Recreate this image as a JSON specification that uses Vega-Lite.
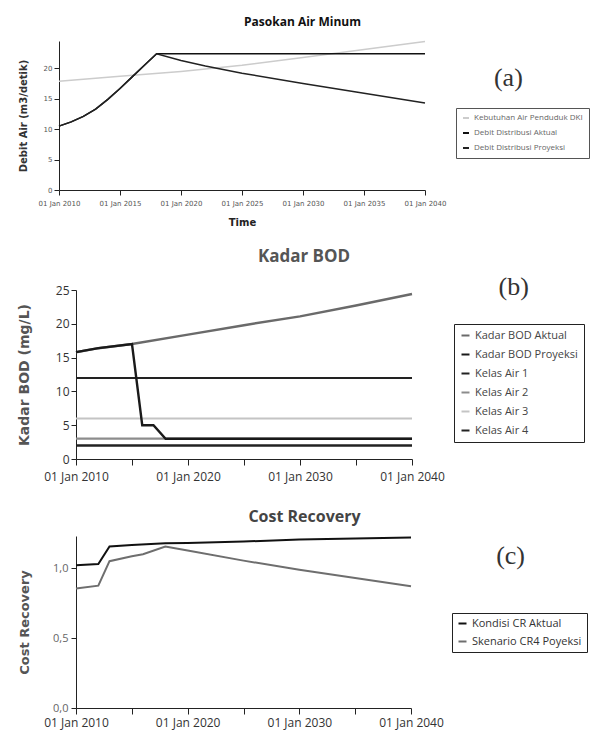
{
  "$schema": "https://vega.github.io/schema/vega-lite/v6.json",
  "padding": {"left": 17, "top": 15, "right": 0, "bottom": 4},
  "background": "white",
  "spacing": 21,
  "config": {
    "view": {"stroke": null},
    "axis": {"grid": false, "domainColor": "#222", "tickColor": "#222", "labelColor": "#444", "labelOverlap": false},
    "legend": {"symbolType": "stroke", "strokeColor": "#222", "labelColor": "#333", "title": null, "orient": "none"}
  },
  "datasets": {
    "pasokan": [
      {"date": "2010-01-01", "value": 17.9, "series": "Kebutuhan Air Penduduk DKI"},
      {"date": "2015-01-01", "value": 18.7, "series": "Kebutuhan Air Penduduk DKI"},
      {"date": "2020-01-01", "value": 19.5, "series": "Kebutuhan Air Penduduk DKI"},
      {"date": "2025-01-01", "value": 20.5, "series": "Kebutuhan Air Penduduk DKI"},
      {"date": "2030-01-01", "value": 21.8, "series": "Kebutuhan Air Penduduk DKI"},
      {"date": "2035-01-01", "value": 23.1, "series": "Kebutuhan Air Penduduk DKI"},
      {"date": "2040-01-01", "value": 24.4, "series": "Kebutuhan Air Penduduk DKI"},
      {"date": "2010-01-01", "value": 10.5, "series": "Debit Distribusi Aktual"},
      {"date": "2011-01-01", "value": 11.2, "series": "Debit Distribusi Aktual"},
      {"date": "2012-01-01", "value": 12.1, "series": "Debit Distribusi Aktual"},
      {"date": "2013-01-01", "value": 13.3, "series": "Debit Distribusi Aktual"},
      {"date": "2014-01-01", "value": 14.9, "series": "Debit Distribusi Aktual"},
      {"date": "2015-01-01", "value": 16.7, "series": "Debit Distribusi Aktual"},
      {"date": "2016-01-01", "value": 18.6, "series": "Debit Distribusi Aktual"},
      {"date": "2017-01-01", "value": 20.5, "series": "Debit Distribusi Aktual"},
      {"date": "2018-01-01", "value": 22.4, "series": "Debit Distribusi Aktual"},
      {"date": "2030-01-01", "value": 22.4, "series": "Debit Distribusi Aktual"},
      {"date": "2040-01-01", "value": 22.4, "series": "Debit Distribusi Aktual"},
      {"date": "2010-01-01", "value": 10.5, "series": "Debit Distribusi Proyeksi"},
      {"date": "2011-01-01", "value": 11.2, "series": "Debit Distribusi Proyeksi"},
      {"date": "2012-01-01", "value": 12.1, "series": "Debit Distribusi Proyeksi"},
      {"date": "2013-01-01", "value": 13.3, "series": "Debit Distribusi Proyeksi"},
      {"date": "2014-01-01", "value": 14.9, "series": "Debit Distribusi Proyeksi"},
      {"date": "2015-01-01", "value": 16.7, "series": "Debit Distribusi Proyeksi"},
      {"date": "2016-01-01", "value": 18.6, "series": "Debit Distribusi Proyeksi"},
      {"date": "2017-01-01", "value": 20.5, "series": "Debit Distribusi Proyeksi"},
      {"date": "2018-01-01", "value": 22.4, "series": "Debit Distribusi Proyeksi"},
      {"date": "2020-01-01", "value": 21.3, "series": "Debit Distribusi Proyeksi"},
      {"date": "2022-01-01", "value": 20.4, "series": "Debit Distribusi Proyeksi"},
      {"date": "2025-01-01", "value": 19.2, "series": "Debit Distribusi Proyeksi"},
      {"date": "2030-01-01", "value": 17.5, "series": "Debit Distribusi Proyeksi"},
      {"date": "2035-01-01", "value": 15.9, "series": "Debit Distribusi Proyeksi"},
      {"date": "2040-01-01", "value": 14.3, "series": "Debit Distribusi Proyeksi"}
    ],
    "bod": [
      {"date": "2010-01-01", "value": 2, "series": "Kelas Air 1"},
      {"date": "2040-01-01", "value": 2, "series": "Kelas Air 1"},
      {"date": "2010-01-01", "value": 3, "series": "Kelas Air 2"},
      {"date": "2040-01-01", "value": 3, "series": "Kelas Air 2"},
      {"date": "2010-01-01", "value": 6, "series": "Kelas Air 3"},
      {"date": "2040-01-01", "value": 6, "series": "Kelas Air 3"},
      {"date": "2010-01-01", "value": 12, "series": "Kelas Air 4"},
      {"date": "2040-01-01", "value": 12, "series": "Kelas Air 4"},
      {"date": "2010-01-01", "value": 15.8, "series": "Kadar BOD Aktual"},
      {"date": "2012-01-01", "value": 16.4, "series": "Kadar BOD Aktual"},
      {"date": "2015-01-01", "value": 17.0, "series": "Kadar BOD Aktual"},
      {"date": "2020-01-01", "value": 18.4, "series": "Kadar BOD Aktual"},
      {"date": "2025-01-01", "value": 19.8, "series": "Kadar BOD Aktual"},
      {"date": "2030-01-01", "value": 21.1, "series": "Kadar BOD Aktual"},
      {"date": "2035-01-01", "value": 22.7, "series": "Kadar BOD Aktual"},
      {"date": "2040-01-01", "value": 24.4, "series": "Kadar BOD Aktual"},
      {"date": "2010-01-01", "value": 15.8, "series": "Kadar BOD Proyeksi"},
      {"date": "2012-01-01", "value": 16.4, "series": "Kadar BOD Proyeksi"},
      {"date": "2015-01-01", "value": 17.0, "series": "Kadar BOD Proyeksi"},
      {"date": "2015-12-01", "value": 5.0, "series": "Kadar BOD Proyeksi"},
      {"date": "2016-12-01", "value": 5.0, "series": "Kadar BOD Proyeksi"},
      {"date": "2018-01-01", "value": 3.0, "series": "Kadar BOD Proyeksi"},
      {"date": "2040-01-01", "value": 3.0, "series": "Kadar BOD Proyeksi"}
    ],
    "cr": [
      {"date": "2010-01-01", "value": 1.02, "series": "Kondisi CR Aktual"},
      {"date": "2012-01-01", "value": 1.03, "series": "Kondisi CR Aktual"},
      {"date": "2013-01-01", "value": 1.155, "series": "Kondisi CR Aktual"},
      {"date": "2015-01-01", "value": 1.165, "series": "Kondisi CR Aktual"},
      {"date": "2018-01-01", "value": 1.178, "series": "Kondisi CR Aktual"},
      {"date": "2020-01-01", "value": 1.18, "series": "Kondisi CR Aktual"},
      {"date": "2025-01-01", "value": 1.19, "series": "Kondisi CR Aktual"},
      {"date": "2030-01-01", "value": 1.205, "series": "Kondisi CR Aktual"},
      {"date": "2035-01-01", "value": 1.213, "series": "Kondisi CR Aktual"},
      {"date": "2040-01-01", "value": 1.22, "series": "Kondisi CR Aktual"},
      {"date": "2010-01-01", "value": 0.855, "series": "Skenario CR4 Poyeksi"},
      {"date": "2012-01-01", "value": 0.875, "series": "Skenario CR4 Poyeksi"},
      {"date": "2013-01-01", "value": 1.05, "series": "Skenario CR4 Poyeksi"},
      {"date": "2015-01-01", "value": 1.085, "series": "Skenario CR4 Poyeksi"},
      {"date": "2016-01-01", "value": 1.10, "series": "Skenario CR4 Poyeksi"},
      {"date": "2018-01-01", "value": 1.154, "series": "Skenario CR4 Poyeksi"},
      {"date": "2020-01-01", "value": 1.126, "series": "Skenario CR4 Poyeksi"},
      {"date": "2025-01-01", "value": 1.054, "series": "Skenario CR4 Poyeksi"},
      {"date": "2030-01-01", "value": 0.988, "series": "Skenario CR4 Poyeksi"},
      {"date": "2035-01-01", "value": 0.929, "series": "Skenario CR4 Poyeksi"},
      {"date": "2040-01-01", "value": 0.871, "series": "Skenario CR4 Poyeksi"}
    ]
  },
  "vconcat": [
    {
      "width": 349,
      "height": 149,
      "title": {"text": "Pasokan Air Minum", "font": "Open Sans", "fontSize": 12, "fontWeight": "bold", "color": "#111", "anchor": "middle", "dx": 52, "offset": 10},
      "layer": [
        {
          "data": {"name": "pasokan"},
          "mark": {"type": "line", "strokeWidth": 1.5, "clip": false},
          "encoding": {
            "x": {"field": "date", "type": "temporal",
              "scale": {"type": "utc", "range": [-17, 349], "domain": [{"year": 2010, "month": "jan", "date": 1, "utc": true}, {"year": 2040, "month": "jan", "date": 1, "utc": true}]},
              "axis": {"values": [{"year": 2010, "utc": true}, {"year": 2015, "utc": true}, {"year": 2020, "utc": true}, {"year": 2025, "utc": true}, {"year": 2030, "utc": true}, {"year": 2035, "utc": true}, {"year": 2040, "utc": true}],
                "labelExpr": "utcFormat(datum.value, '%d %b %Y')", "labelFont": "DejaVu Sans", "labelFontSize": 7, "labelColor": "#555", "tickSize": 5, "labelPadding": 4, "labelFlush": false, "labelOverlap": false,
                "title": "Time", "titleFont": "DejaVu Sans", "titleFontSize": 10, "titleFontWeight": "bold", "titleColor": "#222", "titlePadding": 11}},
            "y": {"field": "value", "type": "quantitative",
              "scale": {"domain": [0, 24.5], "nice": false, "zero": true},
              "axis": {"offset": 17, "values": [0, 5, 10, 15, 20], "labelOverlap": false, "labelFont": "DejaVu Sans", "labelFontSize": 7, "labelColor": "#555", "tickSize": 5, "labelPadding": 2,
                "title": "Debit Air (m3/detik)", "titleFont": "DejaVu Sans", "titleFontSize": 10, "titleFontWeight": "bold", "titleColor": "#333", "titlePadding": 15}},
            "color": {"field": "series", "type": "nominal",
              "scale": {"domain": ["Kebutuhan Air Penduduk DKI", "Debit Distribusi Aktual", "Debit Distribusi Proyeksi"], "range": ["#cccccc", "#111111", "#222222"]},
              "legend": {"legendX": 380, "legendY": 67, "labelFont": "Open Sans", "labelFontSize": 8, "labelColor": "#666", "symbolSize": 36, "symbolStrokeWidth": 2, "rowPadding": 7, "padding": 6, "strokeColor": "#555"}}
          }
        },
        {
          "data": {"values": [{}]},
          "mark": {"type": "text", "font": "Liberation Serif", "fontSize": 26, "color": "#333", "clip": false},
          "encoding": {
            "x": {"datum": {"year": 2046, "month": "nov", "date": 1, "utc": true}, "type": "temporal"},
            "y": {"datum": 18.4, "type": "quantitative", "axis": {"values": [0, 5, 10, 15, 20], "labelOverlap": false}},
            "text": {"value": "(a)"}
          }
        }
      ]
    },
    {
      "width": 336,
      "height": 169,
      "title": {"text": "Kadar BOD", "font": "Open Sans", "fontSize": 17, "fontWeight": "bold", "color": "#555", "anchor": "middle", "dx": 60, "offset": 8},
      "layer": [
        {
          "data": {"name": "bod"},
          "mark": {"type": "line", "clip": false},
          "encoding": {
            "x": {"field": "date", "type": "temporal",
              "scale": {"type": "utc", "domain": [{"year": 2010, "month": "jan", "date": 1, "utc": true}, {"year": 2040, "month": "jan", "date": 1, "utc": true}]},
              "axis": {"values": [{"year": 2010, "utc": true}, {"year": 2015, "utc": true}, {"year": 2020, "utc": true}, {"year": 2025, "utc": true}, {"year": 2030, "utc": true}, {"year": 2035, "utc": true}, {"year": 2040, "utc": true}],
                "labelExpr": "utcyear(datum.value) % 10 === 0 ? utcFormat(datum.value, '%d %b %Y') : ''", "labelFont": "Open Sans", "labelFontSize": 12, "labelColor": "#333", "tickSize": 6, "labelPadding": 6, "labelFlush": false, "labelOverlap": false,
                "title": " ", "titleFontSize": 6, "titlePadding": 0}},
            "y": {"field": "value", "type": "quantitative",
              "scale": {"domain": [0, 25], "nice": false},
              "axis": {"values": [0, 5, 10, 15, 20, 25], "labelOverlap": false, "labelFont": "Open Sans", "labelFontSize": 12, "labelColor": "#333", "tickSize": 5, "labelPadding": 2,
                "title": "Kadar BOD (mg/L)", "titleFont": "DejaVu Sans", "titleFontSize": 14, "titleFontWeight": "bold", "titleColor": "#555", "titlePadding": 24}},
            "color": {"field": "series", "type": "nominal",
              "scale": {"domain": ["Kadar BOD Aktual", "Kadar BOD Proyeksi", "Kelas Air 1", "Kelas Air 2", "Kelas Air 3", "Kelas Air 4"], "range": ["#6a6a6a", "#1a1a1a", "#222222", "#8c8c8c", "#c4c4c4", "#222222"]},
              "legend": {"legendX": 378, "legendY": 34, "labelFont": "Open Sans", "labelFontSize": 11, "labelColor": "#444", "symbolSize": 64, "symbolStrokeWidth": 2, "rowPadding": 7, "padding": 6, "strokeColor": "#222"}},
            "strokeWidth": {"field": "series", "type": "nominal",
              "scale": {"domain": ["Kadar BOD Aktual", "Kadar BOD Proyeksi", "Kelas Air 1", "Kelas Air 2", "Kelas Air 3", "Kelas Air 4"], "range": [2.5, 2, 1.3, 1.3, 1.2, 1.5]},
              "legend": null}
          }
        },
        {
          "data": {"values": [{}]},
          "mark": {"type": "text", "font": "Liberation Serif", "fontSize": 26, "color": "#333", "clip": false},
          "encoding": {
            "x": {"datum": {"year": 2049, "month": "feb", "date": 1, "utc": true}, "type": "temporal"},
            "y": {"datum": 25.4, "type": "quantitative", "axis": {"values": [0, 5, 10, 15, 20, 25], "labelOverlap": false}},
            "text": {"value": "(b)"}
          }
        }
      ],
      "resolve": {"scale": {"strokeWidth": "independent"}}
    },
    {
      "width": 335,
      "height": 172,
      "title": {"text": "Cost Recovery", "font": "Open Sans", "fontSize": 16, "fontWeight": "bold", "color": "#444", "anchor": "middle", "dx": 61, "offset": 8},
      "layer": [
        {
          "data": {"name": "cr"},
          "mark": {"type": "line", "clip": false},
          "encoding": {
            "x": {"field": "date", "type": "temporal",
              "scale": {"type": "utc", "domain": [{"year": 2010, "month": "jan", "date": 1, "utc": true}, {"year": 2040, "month": "jan", "date": 1, "utc": true}]},
              "axis": {"values": [{"year": 2010, "utc": true}, {"year": 2015, "utc": true}, {"year": 2020, "utc": true}, {"year": 2025, "utc": true}, {"year": 2030, "utc": true}, {"year": 2035, "utc": true}, {"year": 2040, "utc": true}],
                "labelExpr": "utcyear(datum.value) % 10 === 0 ? utcFormat(datum.value, '%d %b %Y') : ''", "labelFont": "Open Sans", "labelFontSize": 12, "labelColor": "#333", "tickSize": 6, "labelPadding": 3, "labelFlush": false, "labelOverlap": false,
                "title": null}},
            "y": {"field": "value", "type": "quantitative",
              "scale": {"domain": [0, 1.23], "nice": false},
              "axis": {"values": [0, 0.5, 1], "labelOverlap": false, "labelExpr": "replace(format(datum.value, '.1f'), '.', ',')", "labelFont": "Open Sans", "labelFontSize": 11, "labelColor": "#666", "tickSize": 5, "labelPadding": 3,
                "title": "Cost Recovery", "titleFont": "DejaVu Sans", "titleFontSize": 13, "titleFontWeight": "bold", "titleColor": "#555", "titlePadding": 21}},
            "color": {"field": "series", "type": "nominal",
              "scale": {"domain": ["Kondisi CR Aktual", "Skenario CR4 Poyeksi"], "range": ["#111111", "#6e6e6e"]},
              "legend": {"legendX": 376, "legendY": 77, "labelFont": "Open Sans", "labelFontSize": 11, "labelColor": "#333", "symbolSize": 64, "symbolStrokeWidth": 2, "rowPadding": 6, "padding": 5, "strokeColor": "#222"}},
            "strokeWidth": {"value": 2}
          }
        },
        {
          "data": {"values": [{}]},
          "mark": {"type": "text", "font": "Liberation Serif", "fontSize": 26, "color": "#333", "clip": false},
          "encoding": {
            "x": {"datum": {"year": 2048, "month": "dec", "date": 1, "utc": true}, "type": "temporal"},
            "y": {"datum": 1.088, "type": "quantitative", "axis": {"values": [0, 0.5, 1], "labelOverlap": false}},
            "text": {"value": "(c)"}
          }
        }
      ]
    }
  ],
  "resolve": {"scale": {"color": "independent", "x": "independent", "y": "independent", "strokeWidth": "independent"}, "legend": {"color": "independent"}}
}
